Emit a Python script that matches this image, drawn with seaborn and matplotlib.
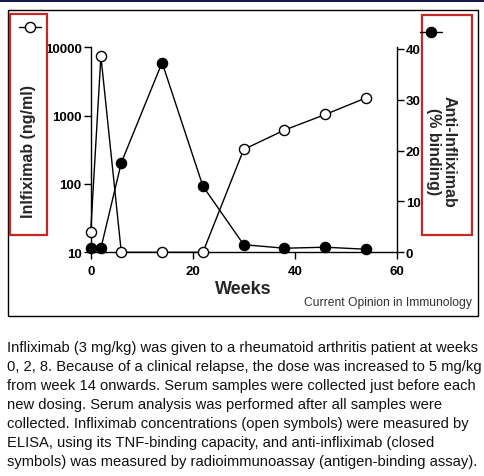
import matplotlib
matplotlib.use('Agg')
import matplotlib.pyplot as plt
from matplotlib.patches import Rectangle
from matplotlib.lines import Line2D
import pandas as pd
import seaborn as sns

weeks = [0, 2, 6, 14, 22, 30, 38, 46, 54]
infliximab = [20, 7400, 10, 10, 10, 320, 615, 1040, 1820]   # ng/ml, open symbols
anti_ifx = [0.8, 0.8, 17.6, 37.3, 13.0, 1.5, 0.8, 1.0, 0.6]  # % binding, closed symbols
left_ticks = [10, 100, 1000, 10000]
right_ticks = [0, 10, 20, 30, 40]
x_ticks = [0, 20, 40, 60]

caption = [
    "Infliximab (3 mg/kg) was given to a rheumatoid arthritis patient at weeks",
    "0, 2, 8. Because of a clinical relapse, the dose was increased to 5 mg/kg",
    "from week 14 onwards. Serum samples were collected just before each",
    "new dosing. Serum analysis was performed after all samples were",
    "collected. Infliximab concentrations (open symbols) were measured by",
    "ELISA, using its TNF-binding capacity, and anti-infliximab (closed",
    "symbols) was measured by radioimmunoassay (antigen-binding assay).",
]

df = pd.DataFrame({'week': weeks, 'ifx': infliximab, 'anti': anti_ifx})

sns.set_style('ticks')
plt.rcParams['font.family'] = ['Liberation Sans', 'DejaVu Sans']

W, H = 485, 477
fig = plt.figure(figsize=(W / 100, H / 100), dpi=100)
fig.patch.set_facecolor('white')


def fx(px):
    return px / W


def fy(py):
    return 1 - py / H


ax = fig.add_axes([fx(90.7), fy(253.3), fx(396.7) - fx(90.7), fy(48.3) - fy(253.3)])
ax2 = ax.twinx()

ms = 7.3
sns.lineplot(data=df, x='week', y='ifx', ax=ax, color='black', linewidth=1.0,
             marker='o', markersize=ms, markerfacecolor='white',
             markeredgecolor='black', markeredgewidth=1.0, clip_on=False, zorder=4)
sns.lineplot(data=df, x='week', y='anti', ax=ax2, color='black', linewidth=1.0,
             marker='o', markersize=ms, markerfacecolor='black',
             markeredgecolor='black', markeredgewidth=1.0, clip_on=False, zorder=3)

ax.set_yscale('log')
ax.set_ylim(10, 10000)
ax.set_xlim(0, 60)
ax2.set_ylim(0, 40.3)
ax.yaxis.set_minor_locator(matplotlib.ticker.NullLocator())
ax.set_yticks(left_ticks)
ax.set_yticklabels([str(t) for t in left_ticks])
ax.set_xticks(x_ticks)
ax.set_xticklabels([str(t) for t in x_ticks])
ax2.set_yticks(right_ticks)
ax2.set_yticklabels([str(t) for t in right_ticks])

for a in (ax, ax2):
    a.set_facecolor('none')
    a.spines['top'].set_visible(False)
    for s in a.spines.values():
        s.set_linewidth(1.0)
        s.set_color('black')
    a.tick_params(width=1.0, length=5, labelsize=9.5, pad=1.5, colors='black')
    for lab in a.get_xticklabels() + a.get_yticklabels():
        lab.set_fontweight('bold')
ax.spines['right'].set_visible(False)
ax2.spines['left'].set_visible(False)
ax2.spines['bottom'].set_visible(False)
ax.tick_params(axis='x', pad=4.5)
ax.set_ylabel('')
ax2.set_ylabel('')
ax.set_xlabel('Weeks', fontsize=13, fontweight='bold', labelpad=2)

# panel frame and top bar
fig.patches.append(Rectangle((fx(8), fy(316.7)), fx(477.7) - fx(8), fy(11) - fy(316.7),
                             transform=fig.transFigure, fill=False, edgecolor='black',
                             linewidth=1.0))
fig.patches.append(Rectangle((0, fy(2.5)), 1, fy(0) - fy(2.5), transform=fig.transFigure,
                             facecolor='#17174a', edgecolor='none'))

# axis titles
fig.text(fx(28.5), fy(152), 'Inlfiximab (ng/ml)', rotation=90, ha='center', va='center',
         fontsize=11.5, fontweight='bold')
fig.text(fx(441), fy(152), 'Anti-Infliximab\n(% binding)', rotation=270, ha='center',
         va='center', multialignment='center', fontsize=11.5, fontweight='bold',
         linespacing=1.05)

# legend symbols
fig.lines.append(Line2D([fx(19), fx(41)], [fy(27.5), fy(27.5)], transform=fig.transFigure,
                        color='black', linewidth=1.0, marker=None))
fig.lines.append(Line2D([fx(30)], [fy(27.5)], transform=fig.transFigure, color='black',
                        marker='o', markersize=ms, markerfacecolor='white',
                        markeredgewidth=1.0, linestyle='none'))
fig.lines.append(Line2D([fx(420), fx(442)], [fy(33), fy(33)], transform=fig.transFigure,
                        color='black', linewidth=1.0))
fig.lines.append(Line2D([fx(431)], [fy(33)], transform=fig.transFigure, color='black',
                        marker='o', markersize=ms, markerfacecolor='black', linestyle='none'))

# red highlight boxes
red = '#c62828'
fig.patches.append(Rectangle((fx(10.5), fy(236)), fx(47.3) - fx(10.5), fy(15) - fy(236),
                             transform=fig.transFigure, fill=False, edgecolor=red,
                             linewidth=1.6))
fig.patches.append(Rectangle((fx(421.7), fy(236)), fx(471.7) - fx(421.7), fy(16) - fy(236),
                             transform=fig.transFigure, fill=False, edgecolor=red,
                             linewidth=1.6))

fig.text(fx(472), fy(302.7), 'Current Opinion in Immunology', ha='right', va='center',
         fontsize=8.7, color='#333333')

for i, line in enumerate(caption):
    fig.text(fx(7), fy(348.3 + i * 18.9), line, ha='left', va='center', fontsize=10.65,
             color='#111111')

fig.savefig('out.png', dpi=100, facecolor='white')
